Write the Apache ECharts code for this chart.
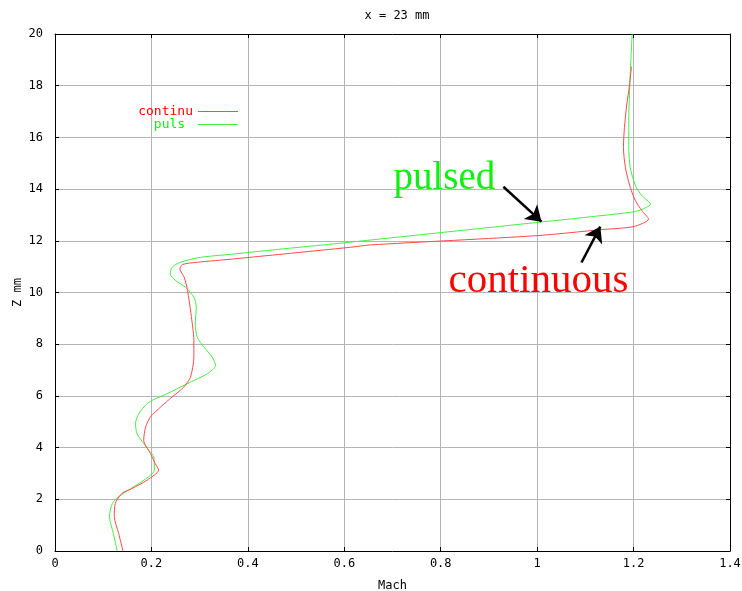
<!DOCTYPE html>
<html>
<head>
<meta charset="utf-8">
<script src="https://cdn.jsdelivr.net/npm/echarts@6/dist/echarts.min.js"></script>
<style>html,body{margin:0;padding:0;background:#fff}#c{width:742px;height:591px}</style>
</head>
<body>
<div id="c"></div>
<script>
// ---- data ----
const titleText = 'x = 23 mm';
const xTicks = [0, 0.2, 0.4, 0.6, 0.8, 1, 1.2, 1.4];
const yTicks = [0, 2, 4, 6, 8, 10, 12, 14, 16, 18, 20];

const continuMach = [0.141,0.132,0.123,0.125,0.139,0.160,0.191,0.215,0.208,0.198,0.184,0.188,0.198,0.219,0.243,0.267,0.281,0.288,0.288,0.282,0.275,0.268,0.259,0.264,0.295,0.371,0.474,0.613,0.654,1.000,1.131,1.200,1.231,1.217,1.204,1.193,1.183,1.179,1.181,1.186,1.191,1.195,1.196];
const continuZ    = [0,0.68,1.33,1.84,2.23,2.42,2.74,3.13,3.38,3.77,4.29,4.80,5.19,5.57,5.96,6.34,6.73,7.50,8.15,9.18,10.08,10.59,10.91,11.08,11.17,11.30,11.49,11.75,11.84,12.20,12.43,12.55,12.84,13.17,13.55,14.07,14.84,15.61,16.38,17.29,17.93,18.64,18.75];

const pulsMach = [0.129,0.121,0.113,0.119,0.132,0.163,0.194,0.206,0.205,0.194,0.184,0.170,0.167,0.174,0.191,0.205,0.233,0.274,0.316,0.333,0.326,0.309,0.295,0.291,0.293,0.288,0.271,0.250,0.239,0.243,0.260,0.302,0.371,0.474,0.578,0.654,1.000,1.193,1.214,1.235,1.217,1.204,1.193,1.190,1.190,1.192,1.195,1.197];
const pulsZ    = [0,0.68,1.33,1.84,2.10,2.48,2.87,3.13,3.64,3.90,4.16,4.54,4.93,5.32,5.70,5.86,6.09,6.47,6.86,7.18,7.50,7.89,8.27,8.79,9.43,9.82,10.20,10.46,10.72,10.98,11.17,11.36,11.49,11.69,11.88,12.03,12.71,13.10,13.19,13.42,13.75,14.13,14.84,15.61,16.64,17.93,19.21,20];

const seriesNames = ['continu', 'puls'];
const annotTexts = ['continuous', 'pulsed'];
const annotPos = [[1.003, 10.45], [0.8076, 14.40]];
const arrowContinu = [[1.092, 11.16], [1.131, 12.55]];
const arrowPuls = [[0.930, 14.09], [1.009, 12.74]];

// ---- chart ----
const zip = (a, b) => a.map((v, i) => [v, b[i]]);
const mono = 'DejaVu Sans Mono';
const redLine = '#ff4a4a', greenLine = '#44ee44';
const redText = '#ff0000', greenText = '#11ee11';

const chart = echarts.init(document.getElementById('c'), null, {renderer: 'canvas'});

const mkAxisCommon = {
  type: 'value',
  axisLine: {show: true, onZero: false, lineStyle: {color: '#000', width: 1}},
  axisTick: {show: true, inside: true, length: 4, lineStyle: {color: '#000'}},
};

chart.setOption({
  animation: false,
  backgroundColor: '#fff',
  title: {
    text: titleText, left: 392, top: 5, textAlign: 'center',
    textStyle: {fontFamily: mono, fontSize: 12, fontWeight: 'normal', color: '#000'}
  },
  grid: {left: 55, right: 12, top: 34, bottom: 40, containLabel: false, outerBoundsMode: 'none'},
  legend: [
    {
      data: [seriesNames[0]], right: 504, top: 105, align: 'right', padding: 0,
      icon: 'rect', itemWidth: 40, itemHeight: 1, selectedMode: false,
      textStyle: {fontFamily: mono, fontSize: 13, color: redText}
    },
    {
      data: [seriesNames[1]], right: 504, top: 118, align: 'right', padding: 0,
      icon: 'rect', itemWidth: 40, itemHeight: 1, selectedMode: false,
      formatter: n => n + ' ',
      textStyle: {fontFamily: mono, fontSize: 13, color: greenText}
    }
  ],
  xAxis: [
    Object.assign({}, mkAxisCommon, {
      position: 'bottom', min: xTicks[0], max: xTicks[xTicks.length - 1], interval: 0.2,
      name: 'Mach', nameLocation: 'middle', nameGap: 29,
      nameTextStyle: {fontFamily: mono, fontSize: 12, color: '#000'},
      axisLabel: {fontFamily: mono, fontSize: 12, color: '#000', margin: 7,
        formatter: v => String(Math.round(v * 10) / 10)},
      splitLine: {show: true, lineStyle: {color: '#b4b4b4', width: 1}}
    }),
    Object.assign({}, mkAxisCommon, {
      position: 'top', min: xTicks[0], max: xTicks[xTicks.length - 1], interval: 0.2,
      axisLabel: {show: false}, splitLine: {show: false}
    })
  ],
  yAxis: [
    Object.assign({}, mkAxisCommon, {
      position: 'left', min: yTicks[0], max: yTicks[yTicks.length - 1], interval: 2,
      name: 'Z mm', nameLocation: 'middle', nameGap: 31, nameRotate: 90, nameMoveOverlap: false,
      nameTextStyle: {fontFamily: mono, fontSize: 12, color: '#000'},
      axisLabel: {fontFamily: mono, fontSize: 12, color: '#000', margin: 12},
      splitLine: {show: true, lineStyle: {color: '#b4b4b4', width: 1}}
    }),
    Object.assign({}, mkAxisCommon, {
      position: 'right', min: yTicks[0], max: yTicks[yTicks.length - 1], interval: 2,
      axisLabel: {show: false}, splitLine: {show: false}
    })
  ],
  series: [
    {
      name: seriesNames[0], type: 'line', data: zip(continuMach, continuZ),
      symbol: 'none', smooth: 0.25, lineStyle: {color: redLine, width: 1}, itemStyle: {color: redLine},
      z: 3,
      markLine: {
        silent: true, symbol: ['none', 'arrow'], symbolSize: 15,
        label: {show: false}, lineStyle: {color: '#000', width: 2.5, type: 'solid'},
        data: [[{coord: arrowContinu[0]}, {coord: arrowContinu[1]}]]
      },
      markPoint: {
        silent: true, symbol: 'circle', symbolSize: 0,
        data: [{coord: annotPos[0], label: {show: true, position: 'inside', formatter: annotTexts[0],
          fontFamily: 'Liberation Serif', fontSize: 41, color: redText}}]
      }
    },
    {
      name: seriesNames[1], type: 'line', data: zip(pulsMach, pulsZ),
      symbol: 'none', smooth: 0.25, lineStyle: {color: greenLine, width: 1}, itemStyle: {color: greenLine},
      z: 2,
      markLine: {
        silent: true, symbol: ['none', 'arrow'], symbolSize: 15,
        label: {show: false}, lineStyle: {color: '#000', width: 2.5, type: 'solid'},
        data: [[{coord: arrowPuls[0]}, {coord: arrowPuls[1]}]]
      },
      markPoint: {
        silent: true, symbol: 'circle', symbolSize: 0,
        data: [{coord: annotPos[1], label: {show: true, position: 'inside', formatter: annotTexts[1],
          fontFamily: 'Liberation Serif', fontSize: 39, color: greenText}}]
      }
    }
  ]
});
</script>
</body>
</html>
